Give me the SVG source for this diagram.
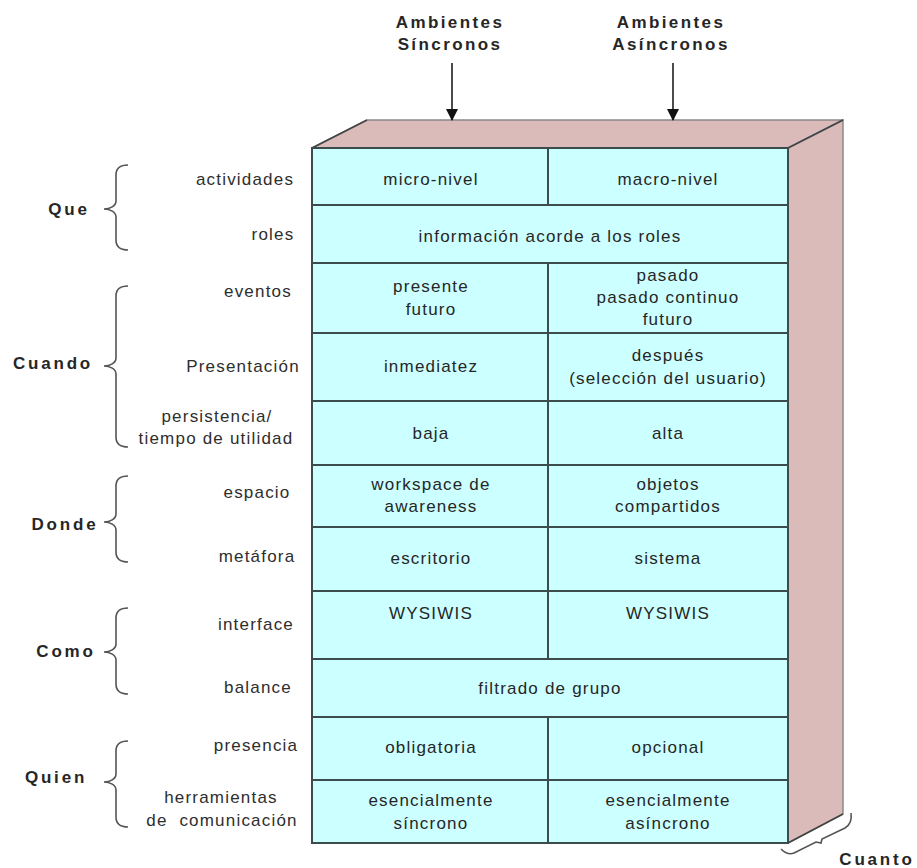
<svg xmlns="http://www.w3.org/2000/svg" width="917" height="868" viewBox="0 0 917 868">
  <style>
    text { font-family: "Liberation Sans", Arial, sans-serif; fill: #262626; }
    .cell { font-size: 17px; letter-spacing: 1.2px; text-anchor: middle; }
    .lbl { font-size: 17px; letter-spacing: 1.2px; text-anchor: middle; fill: #2e2e2e; }
    .cat { font-size: 17px; font-weight: bold; letter-spacing: 2.8px; text-anchor: middle; }
    .hdr { font-size: 17px; font-weight: bold; letter-spacing: 2.4px; text-anchor: middle; }
    .face { fill: #ccffff; stroke: #3c4c4c; stroke-width: 2; }
    .grid { stroke: #3c4c4c; stroke-width: 2; fill: none; }
    .side { fill: #dbbaba; stroke: #8a8a8a; stroke-width: 1.5; }
    .edge { stroke: #444; stroke-width: 1.5; fill: none; }
    .brace { stroke: #555; stroke-width: 1.6; fill: none; }
    .arrow { stroke: #111; stroke-width: 1.5; fill: none; }
  </style>
  <defs>
    <marker id="head" viewBox="0 0 12 12" refX="11" refY="6" markerWidth="12" markerHeight="12" markerUnits="userSpaceOnUse" orient="auto">
      <path d="M0,0 L12,6 L0,12 Z" fill="#111"/>
    </marker>
  </defs>

  <!-- box: top and right faces -->
  <g id="box">
    <polygon class="side" points="312,148 367,120 843,120 788,148"/>
    <polygon class="side" points="788,148 843,120 843,814 788,843"/>
    <path class="edge" d="M312,148 L367,120 M788,148 L843,120 M788,843 L843,814"/>
    <rect class="face" x="312" y="148" width="476" height="695"/>
  </g>

  <!-- header labels -->
  <g id="hdr-sync">
    <text class="hdr" x="450" y="28">Ambientes</text>
    <text class="hdr" x="450" y="50">Síncronos</text>
  </g>
  <g id="hdr-async">
    <text class="hdr" x="671" y="28">Ambientes</text>
    <text class="hdr" x="671" y="50">Asíncronos</text>
  </g>

  <!-- connectors -->
  <g id="connectors">
    <line class="arrow" x1="452" y1="63" x2="452" y2="120" marker-end="url(#head)"/>
    <line class="arrow" x1="673" y1="63" x2="673" y2="120" marker-end="url(#head)"/>
  </g>

  <!-- table grid -->
  <g id="grid">
    <path class="grid" d="M312,205 H788 M312,263 H788 M312,333 H788 M312,401 H788 M312,465 H788 M312,527 H788 M312,591 H788 M312,659 H788 M312,717 H788 M312,780 H788"/>
    <path class="grid" d="M548,148 V205 M548,263 V659 M548,717 V843"/>
  </g>

  <!-- rows -->
  <g id="row-actividades">
    <text class="cell" x="431" y="185">micro-nivel</text>
    <text class="cell" x="668" y="185">macro-nivel</text>
  </g>
  <g id="row-roles">
    <text class="cell" x="550" y="242">información acorde a los roles</text>
  </g>
  <g id="row-eventos">
    <text class="cell" x="431" y="292">presente</text>
    <text class="cell" x="431" y="315">futuro</text>
    <text class="cell" x="668" y="281">pasado</text>
    <text class="cell" x="668" y="303">pasado continuo</text>
    <text class="cell" x="668" y="325">futuro</text>
  </g>
  <g id="row-presentacion">
    <text class="cell" x="431" y="372">inmediatez</text>
    <text class="cell" x="668" y="361">después</text>
    <text class="cell" x="668" y="384">(selección del usuario)</text>
  </g>
  <g id="row-persistencia">
    <text class="cell" x="431" y="439">baja</text>
    <text class="cell" x="668" y="439">alta</text>
  </g>
  <g id="row-espacio">
    <text class="cell" x="431" y="490">workspace de</text>
    <text class="cell" x="431" y="512">awareness</text>
    <text class="cell" x="668" y="490">objetos</text>
    <text class="cell" x="668" y="512">compartidos</text>
  </g>
  <g id="row-metafora">
    <text class="cell" x="431" y="564">escritorio</text>
    <text class="cell" x="668" y="564">sistema</text>
  </g>
  <g id="row-interface">
    <text class="cell" x="431" y="619">WYSIWIS</text>
    <text class="cell" x="668" y="619">WYSIWIS</text>
  </g>
  <g id="row-balance">
    <text class="cell" x="550" y="694">filtrado de grupo</text>
  </g>
  <g id="row-presencia">
    <text class="cell" x="431" y="753">obligatoria</text>
    <text class="cell" x="668" y="753">opcional</text>
  </g>
  <g id="row-herramientas">
    <text class="cell" x="431" y="806">esencialmente</text>
    <text class="cell" x="431" y="829">síncrono</text>
    <text class="cell" x="668" y="806">esencialmente</text>
    <text class="cell" x="668" y="829">asíncrono</text>
  </g>

  <!-- row labels -->
  <g id="labels">
    <text class="lbl" x="245" y="185">actividades</text>
    <text class="lbl" x="273" y="240">roles</text>
    <text class="lbl" x="258" y="297">eventos</text>
    <text class="lbl" x="243" y="372">Presentación</text>
    <text class="lbl" x="217" y="422">persistencia/</text>
    <text class="lbl" x="216" y="444">tiempo de utilidad</text>
    <text class="lbl" x="257" y="498">espacio</text>
    <text class="lbl" x="257" y="562">metáfora</text>
    <text class="lbl" x="256" y="630">interface</text>
    <text class="lbl" x="258" y="693">balance</text>
    <text class="lbl" x="256" y="751">presencia</text>
    <text class="lbl" x="221" y="803">herramientas</text>
    <text class="lbl" x="222" y="826" xml:space="preserve">de  comunicación</text>
  </g>

  <!-- category braces -->
  <g id="cat-que">
    <path class="brace" d="M128,165 C120,165 116,168 116,175 L116,201 C116,206 110,209 104,209 C110,209 116,212 116,217 L116,240 C116,247 120,250 128,250"/>
    <text class="cat" x="69" y="215">Que</text>
  </g>
  <g id="cat-cuando">
    <path class="brace" d="M128,286 C120,286 116,289 116,296 L116,358 C116,363 110,366 104,366 C110,366 116,369 116,374 L116,437 C116,444 120,447 128,447"/>
    <text class="cat" x="53" y="369">Cuando</text>
  </g>
  <g id="cat-donde">
    <path class="brace" d="M128,476 C120,476 116,479 116,486 L116,514 C116,519 110,522 104,522 C110,522 116,525 116,530 L116,552 C116,559 120,562 128,562"/>
    <text class="cat" x="65" y="530">Donde</text>
  </g>
  <g id="cat-como">
    <path class="brace" d="M128,608 C120,608 116,611 116,618 L116,644 C116,649 110,652 104,652 C110,652 116,655 116,660 L116,684 C116,691 120,694 128,694"/>
    <text class="cat" x="66" y="657">Como</text>
  </g>
  <g id="cat-quien">
    <path class="brace" d="M128,741 C120,741 116,744 116,751 L116,774 C116,779 110,782 104,782 C110,782 116,785 116,790 L116,817 C116,824 120,827 128,827"/>
    <text class="cat" x="56" y="783">Quien</text>
  </g>
  <g id="cat-cuanto">
    <path class="brace" d="M781,849 C785,853 789,855 794,853 L816,842 L821,843 L822,839 L845,828 C850,825 852,820 851,813"/>
    <text class="cat" x="877" y="865">Cuanto</text>
  </g>
</svg>
